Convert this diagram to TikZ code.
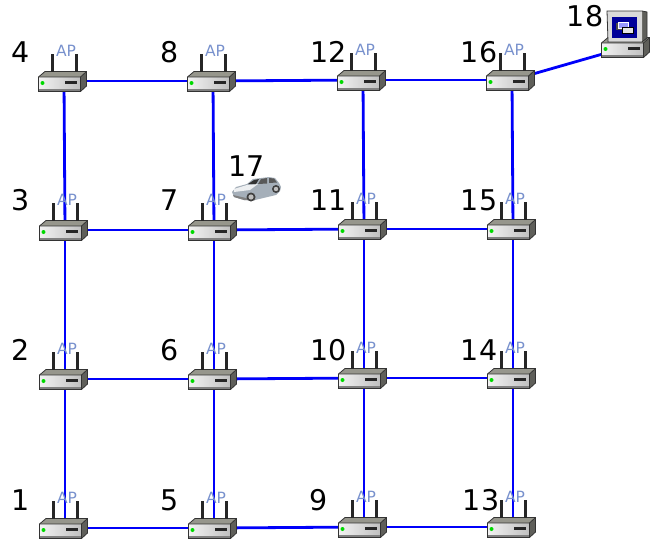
\documentclass[tikz,border=0pt]{standalone}
\usepackage{fontspec}
\setmainfont{DejaVu Sans}
\usepackage{xcolor}
\usetikzlibrary{positioning}
\definecolor{linkblue}{RGB}{0,0,250}
\definecolor{apblue}{RGB}{120,145,205}
\definecolor{boxtop}{RGB}{150,150,140}
\definecolor{boxside}{RGB}{95,95,90}
\definecolor{carbody}{RGB}{165,175,185}
\tikzset{
  hostpoint/.style={inner sep=0pt, minimum size=0pt},
  numlabel/.style={font=\fontsize{28.5}{30}\selectfont, text=black, inner sep=0pt},
  aplabel/.style={font=\fontsize{15.5}{16}\selectfont, text=apblue, inner sep=0pt},
  link/.style={draw=linkblue, line width=2.8pt},
  pics/basebox/.style={code={
    \fill[boxtop] (-25.5,-4) -- (-19,-9.5) -- (22.5,-9.5) -- (16.5,-4) -- cycle;
    \fill[boxside] (16.5,-4) -- (22.5,-9.5) -- (22.5,5) -- (16.5,10.5) -- cycle;
    \shade[left color=white!95!black, right color=white!75!black] (-25.5,-4) rectangle (16.5,10.5);
    \fill[black!50] (-25.5,8) rectangle (16.5,10.5);
    \draw[black!80, line width=.8pt] (-25.5,-4) -- (-19,-9.5) -- (22.5,-9.5) -- (22.5,5) -- (16.5,10.5) -- (-25.5,10.5) -- cycle;
    \draw[black!80, line width=.8pt] (-25.5,-4) -- (16.5,-4) -- (22.5,-9.5) (16.5,-4) -- (16.5,10.5);
    \fill[green!85!black] (-21.5,2) circle (2);
    \fill[black!85] (0.5,0) rectangle (13,3);
  }},
  pics/router/.style={code={
    \pic {basebox};
    \draw[black!85, line width=2.4pt] (-11.5,-9.5) -- (-11.5,-27) (12.5,-9.5) -- (12.5,-27);
    \node[aplabel] at (2,-30.5) {AP};
  }},
  pics/desktop/.style={code={
    \pic {basebox};
    \fill[boxside] (15,-36) -- (20,-35) -- (20,-9) -- (15,-5) -- cycle;
    \fill[white!85!black] (-20,-36) -- (15,-36) -- (15,-5) -- (-19,-5) -- cycle;
    \draw[black!80, line width=.8pt] (-20,-36) -- (15,-36) -- (20,-35) -- (20,-9) -- (15,-5) -- (-19,-5) -- cycle;
    \fill[blue!60!black] (-15,-30) rectangle (10,-9);
    \fill[black!70] (-11,-24) rectangle (0,-17);
    \draw[white, fill=blue!40!white, line width=.5pt] (-9,-25) rectangle (1,-19);
    \draw[black, fill=white!90!black, line width=.5pt] (-5,-20) rectangle (6,-14);
  }},
  pics/sedan/.style={code={
    \fill[carbody] (-24,2) -- (-20,-3) -- (-9,-6) -- (-3,-11) -- (13,-13) -- (19,-12)
      -- (23,-7) -- (25,-3) -- (24,1) -- (20,5) -- (-1,10) -- (-12,10) -- (-22,7) -- cycle;
    \fill[white!80!carbody] (-22,-1) -- (-9,-5) -- (2,-6) -- (-6,0) -- (-22,2) -- cycle;
    \fill[black!80] (-8,-6) -- (-2,-10) -- (3,-11) -- (0,-6) -- cycle;
    \fill[black!65] (2,-6) -- (5,-11) -- (11,-12) -- (11,-6.5) -- cycle;
    \fill[black!65] (13,-7) -- (13,-12) -- (18,-11.5) -- (21,-7.5) -- cycle;
    \fill[black!50] (-23,5) -- (-10,8) -- (-1,6) -- (-1,10) -- (-12,10) -- (-22,7) -- cycle;
    \fill[black!75] (-5,7) circle (4.5) (20,-1) circle (4);
    \fill[white!75!black] (-5,7) circle (2.6) (20,-1) circle (2.2);
  }}
}

\begin{document}
\begin{tikzpicture}[x=1pt, y=-1pt]
  \useasboundingbox (0,0) rectangle (658,544);
  \foreach \n/\x/\y in {4/64/81,8/213/81,12/363/80,16/512/80,3/65/230,7/214/230,11/364/229,15/513/229,2/65/379,6/214/379,10/364/378,14/513/378,1/65/528,5/214/528,9/364/527,13/513/527}
    \node[hostpoint] (n\n) at (\x,\y) {};
  \node[hostpoint] (n17) at (256,190) {};
  \node[hostpoint] (n18) at (627,47) {};
  \foreach \a/\b in {1/2,2/3,3/4,5/6,6/7,7/8,9/10,10/11,11/12,13/14,14/15,15/16,1/5,5/9,9/13,2/6,6/10,10/14,3/7,7/11,11/15,4/8,8/12,12/16,16/18}
    \draw[link] (n\a) -- (n\b);
  \foreach \n in {1,...,16}
    \pic at (n\n) {router};
  \pic at (n17) {sedan};
  \pic at (n18) {desktop};
  \foreach \n/\x/\y in {4/21/52,8/170/52,12/329/52,16/479/52,3/21/200,7/170/200,11/329/200,15/479/200,2/21/350,6/170/350,10/329/350,14/479/350,1/21/500,5/170/500,9/319/500,13/481/500,17/247/166,18/585/16}
    \node[numlabel] (l\n) at (\x,\y) {\n};
\end{tikzpicture}
\end{document}
